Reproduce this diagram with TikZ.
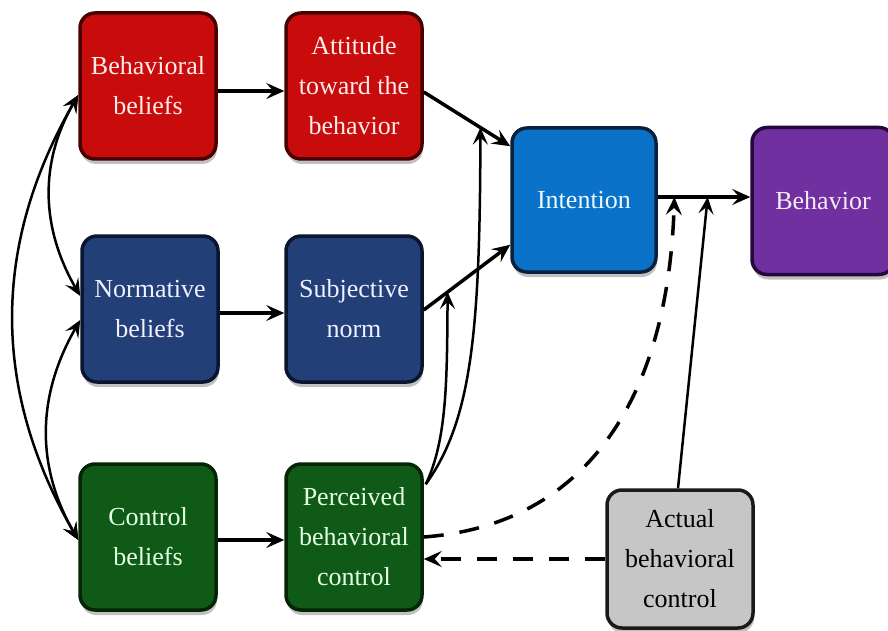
\documentclass[tikz,border=0pt]{standalone}
\usepackage{fontspec}
\setmainfont{Liberation Serif}
\usetikzlibrary{arrows.meta,shadows,calc}
\definecolor{redF}{HTML}{C80C0C}\definecolor{redD}{HTML}{4A0000}
\definecolor{navyF}{HTML}{233F78}\definecolor{navyD}{HTML}{0A1530}
\definecolor{greenF}{HTML}{0F5A16}\definecolor{greenD}{HTML}{042606}
\definecolor{blueF}{HTML}{0A72C8}\definecolor{blueD}{HTML}{06223F}
\definecolor{purpF}{HTML}{7030A0}\definecolor{purpD}{HTML}{26083C}
\definecolor{grayF}{HTML}{C6C6C6}\definecolor{grayD}{HTML}{1A1A1A}
\tikzset{
  box/.style={rounded corners=15pt, line width=3.5pt, minimum width=136pt, minimum height=146pt,
    align=center, inner sep=0pt, text=white,
    font=\fontsize{26}{40}\selectfont,
    drop shadow={shadow xshift=1pt, shadow yshift=-5pt, opacity=0.4, fill=black!60}},
  redbox/.style={box, fill=redF, draw=redD, text=red!8},
  navybox/.style={box, fill=navyF, draw=navyD, text=blue!6},
  greenbox/.style={box, fill=greenF, draw=greenD, text=green!10},
  tip/.style={Stealth[length=18pt,width=16pt,inset=7pt]},
  conn/.style={line width=3.5pt, -{Stealth[length=18pt,width=16pt,inset=7pt]}},
  conn2/.style={line width=2.5pt, {Stealth[length=17pt,width=15pt,inset=7pt]}-{Stealth[length=17pt,width=15pt,inset=7pt]}},
  thinarrow/.style={line width=2.5pt, -{Stealth[length=17pt,width=15pt,inset=7pt]}},
  dashline/.style={dash pattern=on 20pt off 16pt},
}
\begin{document}
\begin{tikzpicture}[x=1pt,y=1pt]
\useasboundingbox[fill=white] (0,0) rectangle (888,-631);
\node[redbox] (BB) at (148,-86) {Behavioral\\beliefs};
\node[redbox] (ATT) at (354,-86) {Attitude\\toward the\\behavior};
\node[navybox] (NB) at (150,-309) {Normative\\beliefs};
\node[navybox] (SN) at (354,-309) {Subjective\\norm};
\node[greenbox] (CB) at (148,-537) {Control\\beliefs};
\node[greenbox] (PBC) at (354,-537) {Perceived\\behavioral\\control};
\node[box, fill=blueF, draw=blueD, text=cyan!8, minimum width=144pt, minimum height=144pt] (INT) at (584,-200) {Intention};
\node[box, fill=purpF, draw=purpD, text=violet!8, minimum width=142pt, minimum height=147pt] (BEH) at (823,-201) {Behavior};
\node[box, fill=grayF, draw=grayD, text=black, minimum width=146pt, minimum height=138pt] (ABC) at (680,-559) {Actual\\behavioral\\control};

% belief to construct
\draw[conn] ([yshift=-5pt]BB.east) -- ([yshift=-5pt]ATT.west);
\draw[conn] ([yshift=-4pt]NB.east) -- ([yshift=-4pt]SN.west);
\draw[conn] ([yshift=-3pt]CB.east) -- ([yshift=-3pt]PBC.west);

% constructs to intention
\coordinate (attS) at ([yshift=-6pt]ATT.east);
\coordinate (attE) at ([yshift=-20pt]INT.north west);
\coordinate (snS) at ([yshift=-1pt]SN.east);
\coordinate (snE) at ([yshift=29pt]INT.south west);
\draw[conn] (attS) -- (attE);
\draw[conn] (snS) -- (snE);
\coordinate (p1) at ($(attS)!0.655!(attE)$);
\coordinate (p2) at ($(snS)!0.276!(snE)$);
\coordinate (pbcC) at ([xshift=2pt,yshift=-22pt]PBC.north east);
\draw[thinarrow] (pbcC) .. controls (472,-420) and (480,-330) .. (p1);
\draw[thinarrow] (pbcC) .. controls (447,-440) and (447,-380) .. (p2);

% intention to behavior
\draw[conn] ([yshift=3pt]INT.east) -- ([yshift=3pt]INT.east -| BEH.west);
\coordinate (q1) at ($([yshift=3pt]INT.east)!0.18!([yshift=3pt]INT.east -| BEH.west)$);
\coordinate (q2) at ($([yshift=3pt]INT.east)!0.54!([yshift=3pt]INT.east -| BEH.west)$);
\draw[thinarrow] ([xshift=-2pt]ABC.north) -- (q2);
\draw[conn, dashline] (PBC.east) .. controls (585,-525) and (668,-400) .. (q1);
\draw[conn, dashline] (ABC.west) -- (ABC.west -| PBC.east);

% belief correlations
\draw[conn2] ([yshift=-9pt]BB.west) to[out=240,in=120,looseness=1.0] ([yshift=13pt]NB.west);
\draw[conn2] ([yshift=-11pt]NB.west) to[out=240,in=120,looseness=1.0] ([yshift=-3pt]CB.west);
\draw[conn2] ([yshift=-9pt]BB.west) to[out=240,in=120] ([yshift=-3pt]CB.west);
\end{tikzpicture}
\end{document}
